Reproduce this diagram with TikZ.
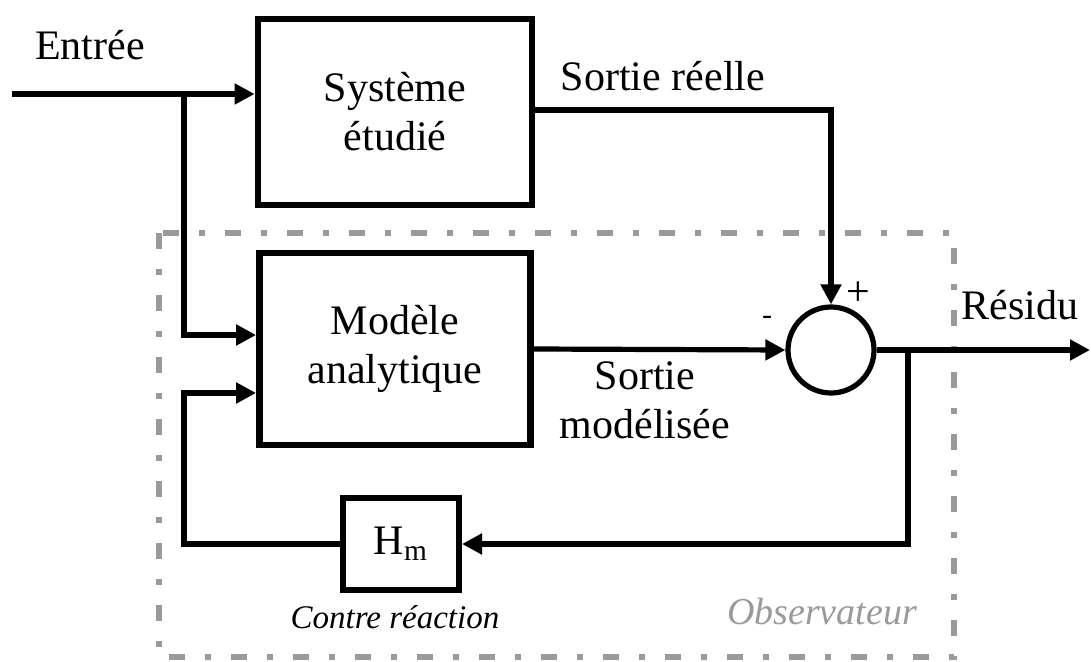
\documentclass[tikz,border=0pt]{standalone}
\usepackage{fontspec}
\setmainfont{Liberation Serif}
\usetikzlibrary{arrows.meta,calc}
\definecolor{obsgray}{HTML}{9A9A9C}
\begin{document}
\begin{tikzpicture}[x=0.5pt,y=-0.5pt,
  txt/.style={font=\fontsize{21}{24.5}\selectfont, align=center, inner sep=0pt},
  blockbox/.style={draw, line width=3.4pt, txt, align=center},
  conn/.style={line width=2.6pt},
  arr/.style={conn, -{Triangle[length=10pt,width=10pt]}},
  obsframe/.style={draw=obsgray, line width=2.6pt, dash pattern=on 8pt off 10pt on 3pt off 10pt},
  note/.style={font=\fontsize{16.5}{19}\selectfont\itshape, inner sep=0pt}]
\useasboundingbox (0,0) rectangle (1091,662);

% observer frame
\draw[obsframe] (159,233) rectangle (954,657);

% blocks
\node[blockbox, minimum width=137pt, minimum height=93pt] (sys) at (395,112) {Système\\étudié};
\node[blockbox, minimum width=135.5pt, minimum height=96pt] (mod) at (395,349) {Modèle\\analytique};
\node[blockbox, line width=3pt, minimum width=58pt, minimum height=46pt] (hm) at (401,544) {H\textsubscript{m}};
\node[draw, circle, line width=2.6pt, minimum size=43pt, inner sep=0pt] (sum) at (831,350) {};

% connection points
\coordinate (in) at (12,94);
\coordinate (br) at (184,94);
\coordinate (br2) at (908,350);
\coordinate (out) at (1090,350);

% signal paths
\draw[arr] (in) -- (in -| sys.west);
\draw[arr] (br) |- ([yshift=7pt]mod.west);
\draw[arr] ([yshift=1pt]sys.east) -| (sum.north);
\draw[arr] (mod.east) -- (sum.west);
\draw[arr] (sum.east) -- (out);
\draw[arr] (br2) |- (hm.east);
\draw[arr] (hm.west) -- (hm.west -| br) |- ([yshift=-22pt]mod.west);

% labels
\node[txt] (lin) at (90,45) {Entrée};
\node[txt] (lsr) at (663,76) {Sortie réelle};
\node[txt] (lsm) at (645,400) {Sortie\\modélisée};
\node[txt] (lres) at (1020,305) {Résidu};
\node[txt] (lplus) at (858,294) {+};
\node[txt, font=\fontsize{15}{18}\selectfont] (lminus) at (767,320) {-};
\node[note] (lcr) at (395,617) {Contre réaction};
\node[note, font=\fontsize{19}{22}\selectfont\itshape, text=obsgray] (lobs) at (822,612) {Observateur};
\end{tikzpicture}
\end{document}
